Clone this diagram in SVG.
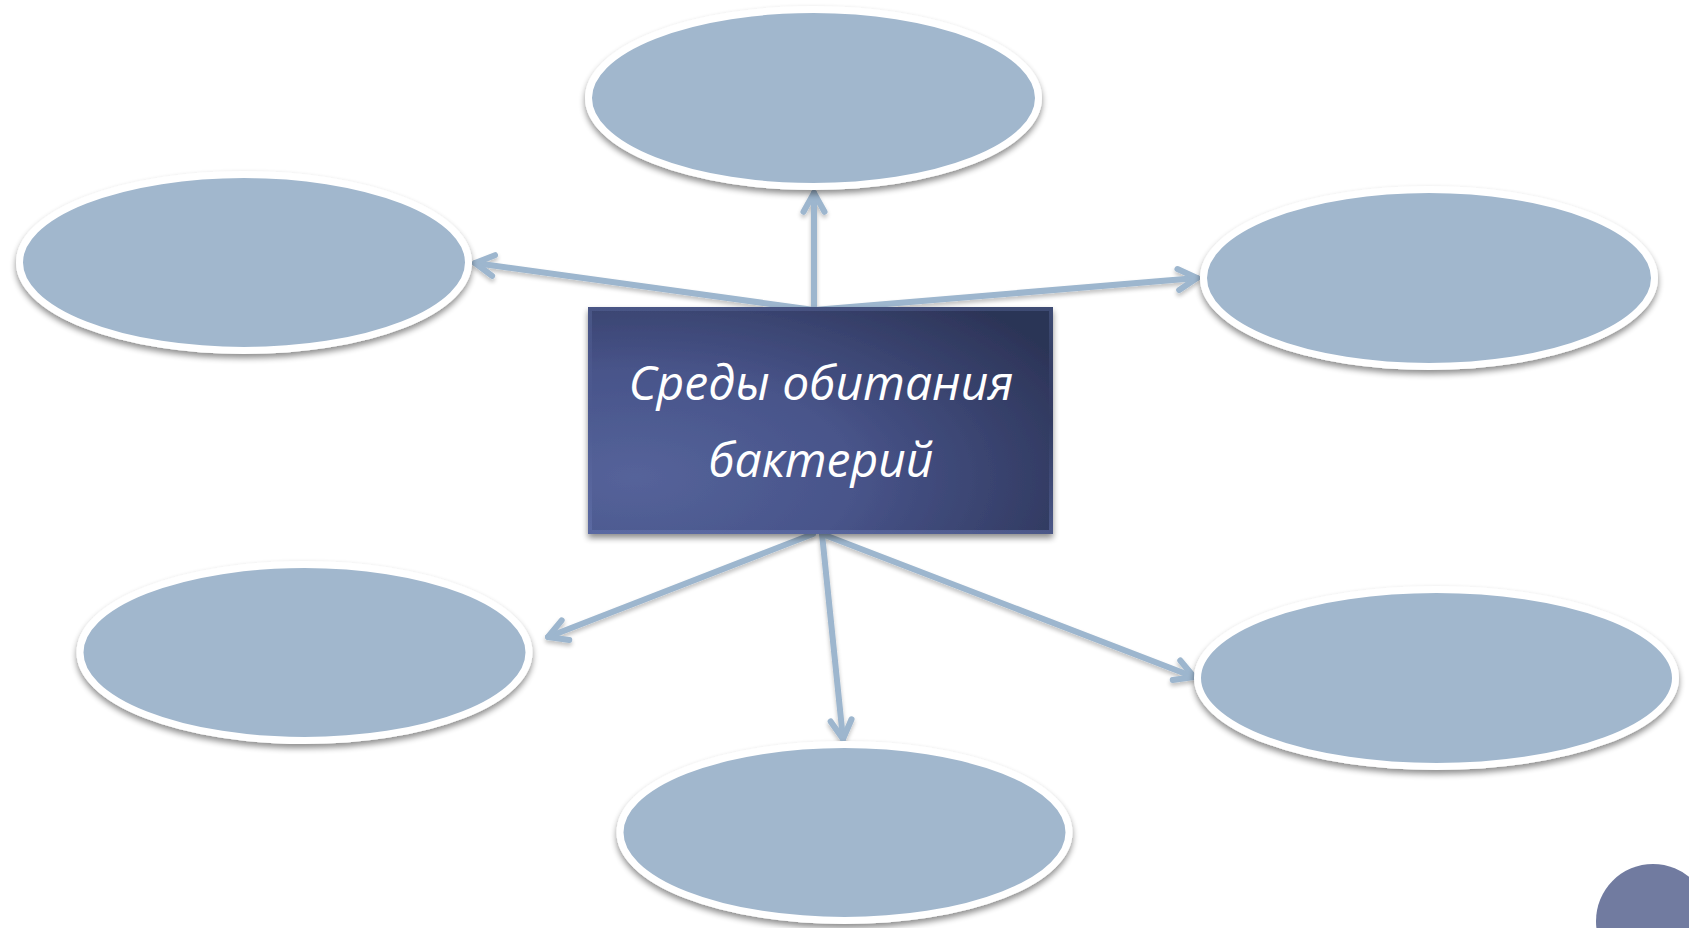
<svg xmlns="http://www.w3.org/2000/svg" width="1689" height="928" viewBox="0 0 1689 928">
  <style>
    .node ellipse { fill: #a1b7cd; stroke: #ffffff; stroke-width: 7; filter: url(#shadow); }
    .conn line { stroke: #9db6ce; stroke-width: 6; stroke-linecap: round; marker-end: url(#arrow); }
    .title { font-family: "Open Sans", "Noto Sans", sans-serif; font-style: italic; font-size: 48px; fill: #ffffff; text-anchor: middle; }
  </style>
  <defs>
    <filter id="shadow" x="-10%" y="-10%" width="120%" height="130%">
      <feGaussianBlur in="SourceAlpha" stdDeviation="3"/>
      <feOffset dx="0" dy="4" result="b"/>
      <feComponentTransfer><feFuncA type="linear" slope="0.45"/></feComponentTransfer>
      <feMerge><feMergeNode/><feMergeNode in="SourceGraphic"/></feMerge>
    </filter>
    <filter id="lshadow" x="-20%" y="-20%" width="140%" height="140%">
      <feGaussianBlur in="SourceAlpha" stdDeviation="2"/>
      <feOffset dx="0" dy="3"/>
      <feComponentTransfer><feFuncA type="linear" slope="0.25"/></feComponentTransfer>
      <feMerge><feMergeNode/><feMergeNode in="SourceGraphic"/></feMerge>
    </filter>
    <marker id="arrow" viewBox="0 0 12 12" refX="10" refY="6" markerWidth="5" markerHeight="5" orient="auto" markerUnits="strokeWidth">
      <path d="M2.5,1.8 L10,6 L2.5,10.2" fill="none" stroke="#9db6ce" stroke-width="2.4" stroke-linecap="round" stroke-linejoin="round"/>
    </marker>
    <radialGradient id="boxGrad" cx="0.1" cy="0.75" r="1.05">
      <stop offset="0" stop-color="#55639a"/>
      <stop offset="0.45" stop-color="#48548a"/>
      <stop offset="1" stop-color="#2c3457"/>
    </radialGradient>
    <linearGradient id="bevel" x1="0" y1="0" x2="0" y2="1">
      <stop offset="0" stop-color="#6474aa" stop-opacity="0.35"/>
      <stop offset="0.5" stop-color="#5a68a0" stop-opacity="0"/>
      <stop offset="1" stop-color="#6b7ab5" stop-opacity="0.45"/>
    </linearGradient>
  </defs>

  <rect width="1689" height="928" fill="#ffffff"/>

  <g id="connectors" class="conn" filter="url(#lshadow)">
    <line x1="814" y1="310" x2="814" y2="193"/>
    <line x1="814" y1="310" x2="475" y2="263"/>
    <line x1="814" y1="310" x2="1197" y2="278"/>
    <line x1="813" y1="534" x2="548" y2="637"/>
    <line x1="822" y1="534" x2="843" y2="739"/>
    <line x1="822" y1="534" x2="1194" y2="677"/>
  </g>

  <g id="node-top" class="node"><ellipse cx="813.5" cy="98" rx="225" ry="88.5"/></g>
  <g id="node-left" class="node"><ellipse cx="244" cy="262.5" rx="224.5" ry="88"/></g>
  <g id="node-right" class="node"><ellipse cx="1429" cy="278" rx="225.5" ry="88.5"/></g>
  <g id="node-bottom-left" class="node"><ellipse cx="304.5" cy="652.5" rx="224.5" ry="88"/></g>
  <g id="node-bottom" class="node"><ellipse cx="844.5" cy="832.5" rx="224.5" ry="88"/></g>
  <g id="node-bottom-right" class="node"><ellipse cx="1436.5" cy="678" rx="239" ry="88.5"/></g>

  <g id="node-center">
    <rect x="588" y="307" width="465" height="227" fill="url(#boxGrad)" filter="url(#shadow)"/>
    <rect x="590" y="309" width="461" height="223" fill="none" stroke="url(#bevel)" stroke-width="4"/>
    <text class="title" x="821" y="400">Среды обитания</text>
    <text class="title" x="821" y="477">бактерий</text>
  </g>

  <circle id="corner-circle" cx="1653" cy="921" r="57" fill="#717ba0"/>
</svg>
